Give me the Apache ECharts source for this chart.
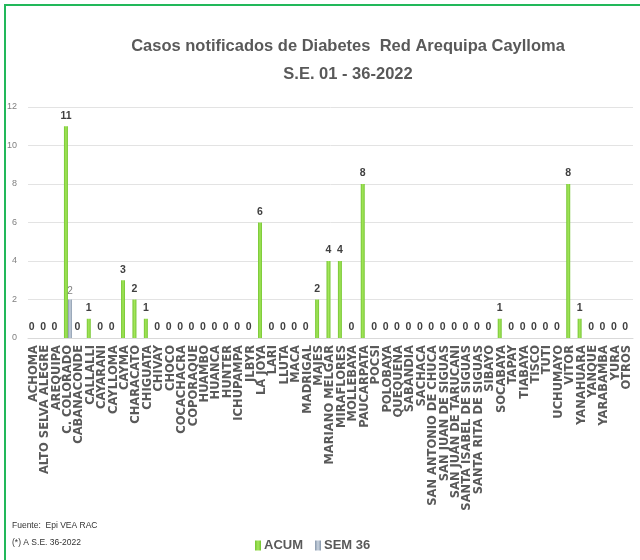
<!DOCTYPE html>
<html>
<head>
<meta charset="utf-8">
<script src="https://cdn.jsdelivr.net/npm/echarts@6/dist/echarts.min.js"></script>
<style>
  html, body { margin: 0; padding: 0; background: #fff; }
  #main { width: 640px; height: 560px; }
</style>
</head>
<body>
<div id="main"></div>
<script>
// 数据
const districts = [
  'ACHOMA', 'ALTO SELVA ALEGRE', 'AREQUIPA', 'C. COLORADO', 'CABANACONDE', 'CALLALLI',
  'CAYARANI', 'CAYLLOMA', 'CAYMA', 'CHARACATO', 'CHIGUATA', 'CHIVAY', 'CHOCO',
  'COCACHACRA', 'COPORAQUE', 'HUAMBO', 'HUANCA', 'HUNTER', 'ICHUPAMPA', 'JLBYR',
  'LA JOYA', 'LARI', 'LLUTA', 'MACA', 'MADRIGAL', 'MAJES', 'MARIANO MELGAR',
  'MIRAFLORES', 'MOLLEBAYA', 'PAUCARPATA', 'POCSI', 'POLOBAYA', 'QUEQUEÑA',
  'SABANDIA', 'SACHACA', 'SAN ANTONIO DE CHUCA', 'SAN JUAN DE SIGUAS',
  'SAN JUAN DE TARUCANI', 'SANTA ISABEL DE SIGUAS', 'SANTA RITA DE SIGUAS',
  'SIBAYO', 'SOCABAYA', 'TAPAY', 'TIABAYA', 'TISCO', 'TUTI', 'UCHUMAYO', 'VITOR',
  'YANAHUARA', 'YANQUE', 'YARABAMBA', 'YURA', 'OTROS'
]
const acum = [
  0, 0, 0, 11, 0, 1,
  0, 0, 3, 2, 1, 0, 0,
  0, 0, 0, 0, 0, 0, 0,
  6, 0, 0, 0, 0, 2, 4,
  4, 0, 8, 0, 0, 0,
  0, 0, 0, 0,
  0, 0, 0,
  0, 1, 0, 0, 0, 0, 0, 8,
  1, 0, 0, 0, 0
]
const sem36 = [
  0, 0, 0, 2, 0, 0,
  0, 0, 0, 0, 0, 0, 0,
  0, 0, 0, 0, 0, 0, 0,
  0, 0, 0, 0, 0, 0, 0,
  0, 0, 0, 0, 0, 0,
  0, 0, 0, 0,
  0, 0, 0,
  0, 0, 0, 0, 0, 0, 0, 0,
  0, 0, 0, 0, 0
]
const yTicks = { min: 0, max: 12, interval: 2 }

const sans = "'Liberation Sans', Arial, sans-serif"

const greenBar = new echarts.graphic.LinearGradient(0, 0, 1, 0, [
  { offset: 0, color: '#74c532' },
  { offset: 0.5, color: '#a4e65a' },
  { offset: 1, color: '#74c532' }
])
const greyBar = new echarts.graphic.LinearGradient(0, 0, 1, 0, [
  { offset: 0, color: '#8797ab' },
  { offset: 0.5, color: '#c9d3df' },
  { offset: 1, color: '#8797ab' }
])

const chart = echarts.init(document.getElementById('main'))

chart.setOption({
  animation: false,
  backgroundColor: '#fff',
  title: {
    text: 'Casos notificados de Diabetes  Red Arequipa Caylloma\nS.E. 01 - 36-2022',
    left: 343,
    top: 27,
    textAlign: 'center',
    textStyle: {
      fontFamily: sans,
      fontSize: 16.5,
      fontWeight: 'bold',
      color: '#595959',
      lineHeight: 28
    }
  },
  legend: {
    left: 250,
    top: 534,
    icon: 'rect',
    itemWidth: 6,
    itemHeight: 10,
    itemGap: 12,
    textStyle: { fontFamily: sans, fontSize: 13, fontWeight: 'bold', color: '#595959', padding: [0, 0, 0, -2] },
    data: ['ACUM', 'SEM 36']
  },
  graphic: [
    // marco verde
    {
      type: 'polyline',
      shape: { points: [[5, 560], [5, 5], [640, 5]] },
      style: { stroke: '#22b85a', lineWidth: 2, fill: null }
    },
    {
      type: 'text', left: 12, top: 521,
      style: { text: 'Fuente:  Epi VEA RAC', fontFamily: sans, fontSize: 8.5, fill: '#333' }
    },
    {
      type: 'text', left: 12, top: 538,
      style: { text: '(*) A S.E. 36-2022', fontFamily: sans, fontSize: 8.5, fill: '#333' }
    }
  ],
  grid: { left: 28, right: 7, top: 107, bottom: 222 },
  xAxis: {
    type: 'category',
    data: districts,
    axisTick: { show: false },
    axisLine: { lineStyle: { color: '#d9d9d9' } },
    axisLabel: {
      interval: 0,
      rotate: 90,
      margin: 7,
      fontFamily: 'DejaVu Sans',
      fontWeight: 'bold',
      fontSize: 11.5,
      color: '#595959'
    }
  },
  yAxis: {
    type: 'value',
    min: yTicks.min,
    max: yTicks.max,
    interval: yTicks.interval,
    axisLine: { show: false },
    axisTick: { show: false },
    axisLabel: { fontFamily: sans, fontSize: 9, color: '#808080', margin: 11 },
    splitLine: { lineStyle: { color: '#e3e3e3' } }
  },
  series: [
    {
      name: 'ACUM',
      type: 'bar',
      data: acum,
      barWidth: 4,
      barGap: '0%',
      itemStyle: { color: greenBar },
      label: {
        show: true,
        position: 'top',
        distance: 5,
        fontFamily: sans,
        fontSize: 10.5,
        fontWeight: 'bold',
        color: '#404040'
      }
    },
    {
      name: 'SEM 36',
      type: 'bar',
      data: sem36,
      barWidth: 4,
      itemStyle: { color: greyBar },
      label: {
        show: true,
        position: 'top',
        distance: 3,
        fontFamily: sans,
        fontSize: 10,
        color: '#808080',
        formatter: p => (p.value ? p.value : '')
      }
    }
  ]
})
</script>
</body>
</html>
